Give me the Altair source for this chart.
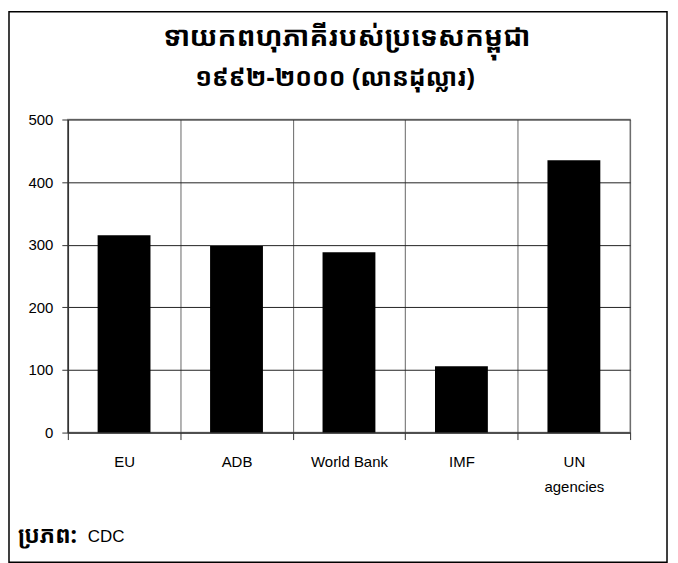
import altair as alt
import pandas as pd

categories = ["EU", "ADB", "World Bank", "IMF", "UN agencies"]
values = [315, 298, 288, 106, 435]
y_ticks = [0, 100, 200, 300, 400, 500]
title_lines = ["ទាយកពហុភាគីរបស់ប្រទេសកម្ពុជា", "១៩៩២-២០០០ (លានដុល្លារ)"]
source_label = "ប្រភព:"
source_value = "CDC"

df = pd.DataFrame({"donor": categories, "amount": values})

KH = "Khmer OS, Noto Sans Khmer, Noto Serif Khmer, Khmer OS System, Hanuman, Battambang, sans-serif"
LAT = "Liberation Sans, Arial, sans-serif"

W, H = 564, 314

bars = alt.Chart(df).mark_bar(color="black", width=alt.RelativeBandSize(0.47)).encode(
    x=alt.X("donor:N", sort=categories, title=None,
            scale=alt.Scale(paddingInner=0, paddingOuter=0),
            axis=alt.Axis(labelAngle=0, tickBand="extent", grid=True, gridColor="#666",
                          gridWidth=1, tickColor="#333", tickSize=7, domainColor="#333",
                          labelFont=LAT, labelFontSize=15, labelColor="black",
                          labelPadding=15, labelLineHeight=25,
                          labelExpr="datum.label == 'UN agencies' ? ['UN', 'agencies'] : datum.label")),
    y=alt.Y("amount:Q", title=None,
            scale=alt.Scale(domain=[0, 500]),
            axis=alt.Axis(values=y_ticks, grid=True, gridColor="#222", gridWidth=1,
                          tickColor="#333", tickSize=6, domainColor="#333", domainWidth=1.5,
                          labelFont=LAT, labelFontSize=15, labelColor="black", labelPadding=9)),
)

ttl = pd.DataFrame({"line": title_lines, "order": [0, 1]})
title1 = alt.Chart(ttl.iloc[[0]]).mark_text(align="center", baseline="middle", font=KH,
                                            fontSize=28, fontWeight="bold", color="black").encode(
    x=alt.value(W / 2 - 2), y=alt.value(-82), text="line:N")
title2 = alt.Chart(ttl.iloc[[1]]).mark_text(align="center", baseline="middle", font=KH,
                                            fontSize=25, fontWeight="bold", color="black").encode(
    x=alt.value(W / 2 - 14), y=alt.value(-42), text="line:N")

src = pd.DataFrame({"a": [source_label], "b": [source_value]})
src_bold = alt.Chart(src).mark_text(align="left", baseline="alphabetic", font=KH,
                                    fontSize=23, fontWeight="bold", color="black").encode(
    x=alt.value(-50), y=alt.value(425), text="a:N")
src_reg = alt.Chart(src).mark_text(align="left", baseline="alphabetic", font=LAT,
                                   fontSize=17, color="black").encode(
    x=alt.value(20), y=alt.value(424), text="b:N")

border = alt.Chart(src).mark_rect(fill=None, stroke="black", strokeWidth=1.5).encode(
    x=alt.value(-59), x2=alt.value(601), y=alt.value(-108), y2=alt.value(444))

chart = alt.layer(bars, title1, title2, src_bold, src_reg, border).properties(
    width=W, height=H,
    autosize=alt.AutoSizeParams(type="none"),
    padding={"left": 60, "top": 111, "right": 40, "bottom": 136},
).configure_view(stroke="#999", strokeWidth=1.5)

chart.save("out.html", embed_options={"renderer": "svg", "actions": False})
